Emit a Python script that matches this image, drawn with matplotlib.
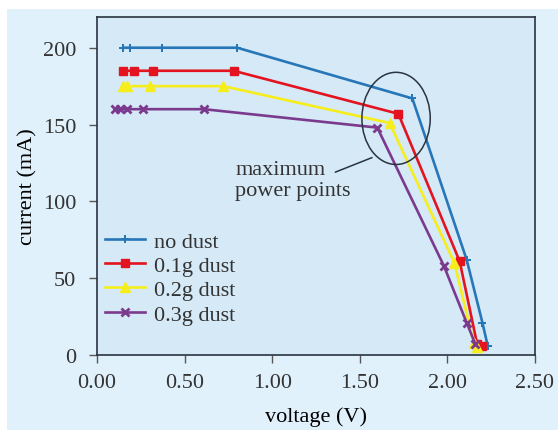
import numpy as np
import matplotlib
matplotlib.use("Agg")
import matplotlib.pyplot as plt
from matplotlib.patches import Ellipse, Rectangle

plt.rcParams['font.family'] = ['Liberation Serif', 'DejaVu Serif']
plt.rcParams['font.size'] = 16
plt.rcParams['text.color'] = '#333333'

# voltage (V) / current (mA)
v_none = [0.15, 0.19, 0.37, 0.80, 1.80, 2.11, 2.20, 2.23]
i_none = [200, 200, 200, 200, 167, 62, 21, 6]
v_01 = [0.15, 0.21, 0.32, 0.78, 1.72, 2.07, 2.17, 2.20]
i_01 = [185, 185, 185, 185, 157, 61, 7, 6]
v_02 = [0.15, 0.17, 0.30, 0.72, 1.67, 2.04, 2.15, 2.17]
i_02 = [175, 175, 175, 175, 151, 60, 8, 5]
v_03 = [0.10, 0.13, 0.17, 0.26, 0.61, 1.60, 1.98, 2.11, 2.16]
i_03 = [160, 160, 160, 160, 160, 148, 58, 21, 7]

labels = ['no dust', '0.1g dust', '0.2g dust', '0.3g dust']
xticks = [0.0, 0.5, 1.0, 1.5, 2.0, 2.5]
yticks = [0, 50, 100, 150, 200]

fig = plt.figure(figsize=(5.58, 4.31), dpi=100, facecolor='white')
fig.patches.append(Rectangle((7/558, 0), 1, 1 - 10/431, transform=fig.transFigure,
                             facecolor='#e1f1fb', edgecolor='none', zorder=-10))
ax = fig.add_axes([97/558, 1 - 356/431, 438/558, 338/431])
ax.set_facecolor('#d5e9f7')

ax.plot(v_none, i_none, color='#2676b8', lw=1.9, marker='P', ms=6, mew=0, label=labels[0])
ax.plot(v_01, i_01, color='#e3141f', lw=1.9, marker='s', ms=6, label=labels[1])
ax.plot(v_02, i_02, color='#f6ee1c', lw=1.9, marker='^', ms=7, label=labels[2])
ax.plot(v_03, i_03, color='#7b3a8e', lw=1.9, marker='x', ms=6, mew=2, label=labels[3])

# circle round the maximum power points
ax.add_patch(Ellipse((1.707, 154), 0.39, 60, fill=False,
                     edgecolor='#2a3440', lw=1.1, zorder=5))
ax.text(0.79, 114, 'maximum\npower points', ha='left', va='center', linespacing=1.1)
ax.annotate('', xy=(1.57, 128.5), xytext=(1.36, 119),
            arrowprops=dict(arrowstyle='-', color='#2a3440', lw=1.1,
                            shrinkA=0, shrinkB=0))

ax.set_xlim(0, 2.5)
ax.set_ylim(0, 220)
ax.set_xticks(xticks)
ax.set_xticklabels([f'{t:.2f}' for t in xticks])
ax.set_yticks(yticks)
for s in ax.spines.values():
    s.set_color('#2a3440')
    s.set_linewidth(1.2)
ax.tick_params(direction='out', length=6, width=1, color='#555555',
               labelcolor='#333333')
ax.tick_params(axis='x', pad=7)
ax.tick_params(axis='y', pad=9)
ax.set_xlabel('voltage (V)', labelpad=10)
ax.set_ylabel('current (mA)', labelpad=4)

ax.legend(loc='upper left', bbox_to_anchor=(0.018, 0.367), frameon=False,
          borderpad=0, labelspacing=0.17, handlelength=1.8, handletextpad=0.4,
          borderaxespad=0)

fig.savefig('out.png', dpi=100, facecolor=fig.get_facecolor())
